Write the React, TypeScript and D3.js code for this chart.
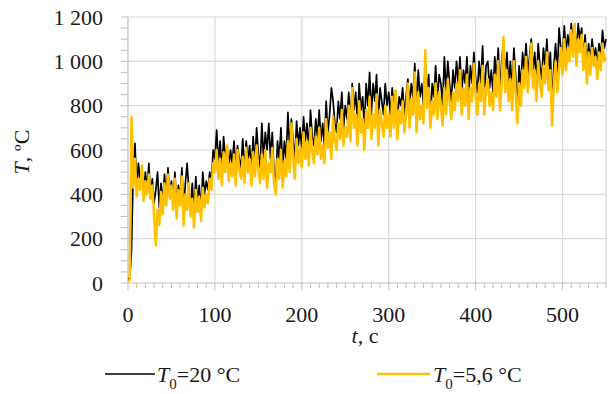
import React from "react";
import * as d3 from "d3";

// sample spacing of the recorded series, seconds
const TIME_STEP = 2;

const legendLabels = ["=20 °C", "=5,6 °C"];

// T0 = 20 °C (black)
const seriesT20: number[] = [
  20, 20, 140, 500, 630, 430, 540, 460, 510, 400,
  500, 420, 540, 380, 470, 360, 420, 500, 340, 450,
  360, 490, 380, 520, 400, 460, 360, 500, 330, 440,
  380, 520, 320, 450, 540, 420, 350, 450, 300, 480,
  360, 440, 320, 500, 400, 460, 420, 500, 460, 600,
  560, 690, 540, 640, 500, 660, 560, 620, 520, 600,
  540, 640, 500, 620, 560, 520, 650, 500, 640, 560,
  620, 500, 660, 540, 700, 580, 520, 720, 560, 680,
  600, 720, 560, 680, 500, 440, 640, 560, 700, 520,
  640, 560, 770, 600, 740, 640, 560, 730, 620, 700,
  600, 750, 640, 720, 600, 780, 660, 620, 740, 660,
  780, 640, 720, 620, 820, 680, 760, 880, 820, 720,
  680, 820, 740, 860, 700, 800, 740, 860, 720, 900,
  780, 860, 720, 900, 780, 840, 700, 900, 800, 950,
  760, 900, 820, 940, 720, 880, 820, 760, 900, 800,
  860, 760, 880, 780, 860, 740, 840, 800, 880, 760,
  840, 920, 800, 900, 840, 990, 780, 960, 840, 900,
  800, 980, 880, 940, 720, 900, 840, 980, 820, 940,
  900, 800, 1020, 860, 1000, 900, 820, 960, 880, 1000,
  900, 1020, 860, 960, 900, 1020, 840, 980, 900, 1040,
  920, 860, 1000, 900, 1070, 820, 980, 1000, 880, 960,
  860, 1020, 920, 1060, 860, 1000, 1090, 940, 1040, 900,
  1000, 860, 1060, 940, 760, 980, 880, 1040, 960, 1080,
  940, 1020, 1100, 960, 1040, 900, 1080, 980, 920, 1060,
  980, 1100, 940, 1040, 800, 980, 1080, 940, 1150, 1060,
  1020, 1160, 1040, 1120, 1060, 1170, 1080, 1160, 1040, 1170,
  1100, 1150, 1000, 1120, 960, 1080, 1000, 1100, 1020, 1060,
  980, 1080, 1020, 1140, 1060, 1100,
];

// T0 = 5,6 °C (orange)
const seriesT56: number[] = [
  10, 12, 750, 430, 560, 390, 470, 420, 530, 370,
  460, 400, 490, 380, 440, 300, 170, 330, 260, 410,
  310, 450, 350, 490, 380, 440, 330, 470, 290, 420,
  350, 480, 260, 400, 330, 450, 300, 380, 250, 420,
  320, 390, 280, 430, 340, 400, 360, 470, 420, 540,
  500, 600, 470, 560, 440, 590, 500, 620, 460, 540,
  480, 580, 440, 600, 510, 470, 570, 450, 610, 500,
  560, 440, 590, 480, 620, 510, 450, 580, 470, 600,
  430, 540, 500, 610, 450, 400, 560, 470, 600, 430,
  550, 480, 640, 500, 720, 560, 470, 650, 540, 610,
  520, 680, 560, 640, 530, 700, 590, 540, 660, 580,
  700, 560, 620, 540, 740, 610, 680, 560, 750, 640,
  600, 720, 650, 780, 620, 700, 660, 800, 640, 880,
  700, 760, 620, 820, 680, 740, 600, 780, 700, 840,
  650, 760, 700, 850, 620, 780, 720, 660, 800, 700,
  760, 660, 840, 700, 870, 650, 780, 720, 820, 680,
  760, 900, 700, 830, 760, 950, 680, 860, 740, 800,
  720, 1050, 790, 880, 700, 820, 760, 900, 740, 860,
  800, 710, 880, 760, 920, 820, 740, 860, 780, 900,
  820, 960, 760, 880, 800, 940, 740, 880, 820, 990,
  840, 760, 900, 820, 980, 760, 880, 920, 800, 860,
  780, 940, 840, 1000, 780, 900, 1110, 860, 960, 820,
  920, 780, 1000, 860, 720, 900, 800, 960, 880, 1020,
  860, 940, 1080, 880, 960, 820, 1000, 900, 840, 980,
  900, 1040, 870, 960, 710, 900, 1000, 860, 960, 1060,
  940, 1100, 960, 1060, 1000, 1140, 1020, 1170, 980, 1100,
  1040, 1120, 960, 1080, 900, 1040, 940, 1060, 980, 1020,
  920, 1040, 960, 1080, 1000, 1020,
];

const xTicks = [0, 100, 200, 300, 400, 500];
const yTicks = [0, 200, 400, 600, 800, 1000, 1200];

const W = 608;
const H = 394;
const FONT = "'Liberation Serif', 'Times New Roman', serif";

function fmt(v: number): string {
  if (v >= 1000) {
    return `${Math.floor(v / 1000)}\u00a0${String(v % 1000).padStart(3, "0")}`;
  }
  return String(v);
}

export default function App() {
  const x = d3.scaleLinear().domain([0, 550]).range([128, 606]);
  const y = d3.scaleLinear().domain([0, 1200]).range([283, 17]);
  const line = d3
    .line<number>()
    .x((_, i) => x(i * TIME_STEP))
    .y((d) => y(d));

  const xMinor = d3.range(0, 551, 10);
  const yMinor = d3.range(0, 1201, 50);
  const gridColor = "#d9d9d9";
  const axisColor = "#bfbfbf";
  const textColor = "#1a1a1a";
  const orange = "#ffc000";

  return (
    <div style={{ position: "absolute", left: 0, top: 0 }}>
      <svg width={W} height={H} style={{ display: "block", background: "#fff" }}>
        {/* grid */}
        {yTicks.filter((v) => v > 0).map((v) => (
          <line key={"gy" + v} x1={x(0)} x2={x(550)} y1={y(v)} y2={y(v)} stroke={gridColor} strokeWidth={1.2} />
        ))}
        {xTicks.filter((v) => v > 0).map((v) => (
          <line key={"gx" + v} x1={x(v)} x2={x(v)} y1={y(0)} y2={y(1200)} stroke={gridColor} strokeWidth={1.2} />
        ))}
        <line x1={x(550)} x2={x(550)} y1={y(0)} y2={y(1200)} stroke={gridColor} strokeWidth={1.2} />

        {/* axes */}
        <line x1={x(0)} x2={x(0)} y1={y(0)} y2={y(1200)} stroke={axisColor} strokeWidth={1.2} />
        <line x1={x(0)} x2={x(550)} y1={y(0)} y2={y(0)} stroke={axisColor} strokeWidth={1.2} />
        {yMinor.map((v) => (
          <line key={"ty" + v} x1={x(0) - 7} x2={x(0)} y1={y(v)} y2={y(v)} stroke={axisColor} strokeWidth={1} />
        ))}
        {xMinor.map((v) => (
          <line key={"tx" + v} x1={x(v)} x2={x(v)} y1={y(0)} y2={y(0) + (v % 100 === 0 ? 7 : 5)} stroke={axisColor} strokeWidth={1} />
        ))}

        {/* series */}
        <path d={line(seriesT20) || ""} fill="none" stroke="#000" strokeWidth={1.7} strokeLinejoin="round" />
        <path d={line(seriesT56) || ""} fill="none" stroke={orange} strokeWidth={2.5} strokeLinejoin="round" />

        {/* tick labels */}
        {yTicks.map((v) => (
          <text key={"ly" + v} x={103} y={y(v) + 7.5} textAnchor="end" fontFamily={FONT} fontSize={22} fill={textColor}>
            {fmt(v)}
          </text>
        ))}
        {xTicks.map((v) => (
          <text key={"lx" + v} x={x(v)} y={322} textAnchor="middle" fontFamily={FONT} fontSize={22} fill={textColor}>
            {fmt(v)}
          </text>
        ))}

        {/* axis titles */}
        <text x={365} y={343} textAnchor="middle" fontFamily={FONT} fontSize={22} fill={textColor}>
          <tspan fontStyle="italic">t</tspan>, c
        </text>
        <text
          transform={`translate(29,152) rotate(-90)`}
          textAnchor="middle"
          fontFamily={FONT}
          fontSize={22}
          fill={textColor}
        >
          <tspan fontStyle="italic">T</tspan>, ºC
        </text>

        {/* legend */}
        <line x1={105} x2={155} y1={374} y2={374} stroke="#000" strokeWidth={1.5} />
        <text x={157} y={382} fontFamily={FONT} fontSize={22} fill={textColor}>
          <tspan fontStyle="italic">T</tspan>
          <tspan fontSize={15} dy={7}>0</tspan>
          <tspan dy={-7}>{legendLabels[0]}</tspan>
        </text>
        <line x1={377} x2={430} y1={374} y2={374} stroke={orange} strokeWidth={2.5} />
        <text x={433} y={382} fontFamily={FONT} fontSize={22} fill={textColor}>
          <tspan fontStyle="italic">T</tspan>
          <tspan fontSize={15} dy={7}>0</tspan>
          <tspan dy={-7}>{legendLabels[1]}</tspan>
        </text>
      </svg>
    </div>
  );
}
